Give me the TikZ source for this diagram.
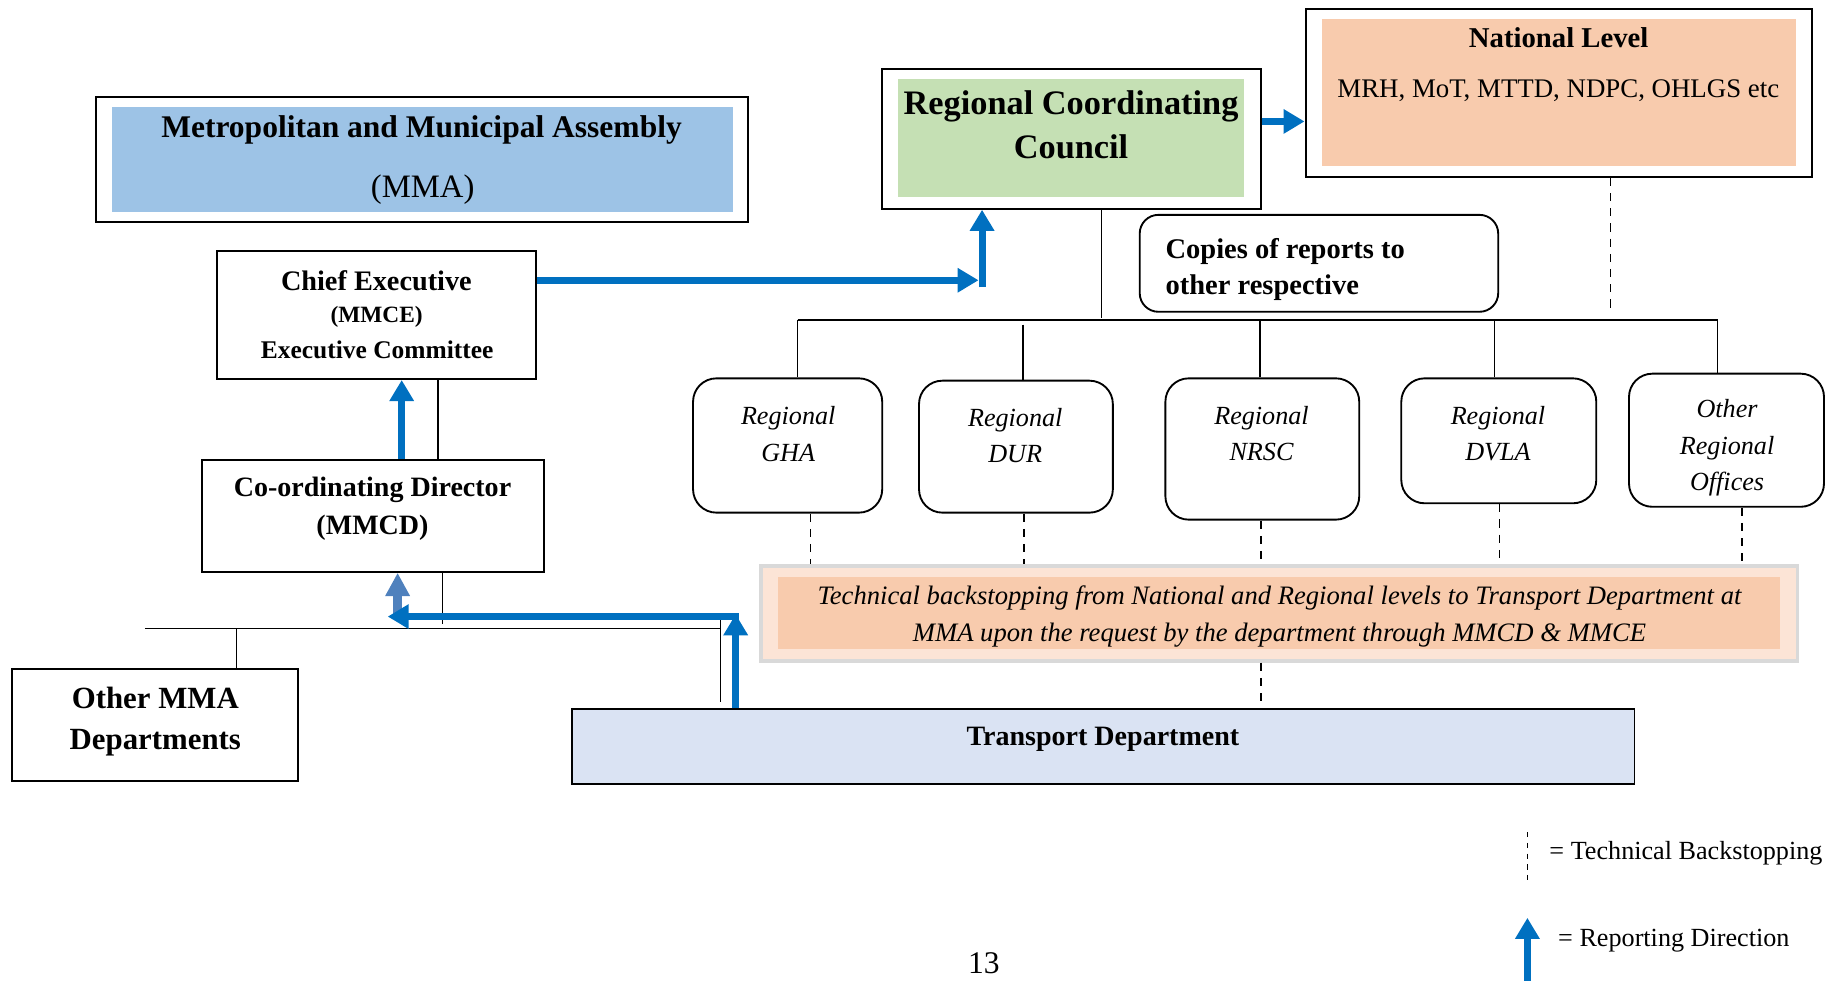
\documentclass[tikz,border=0pt]{standalone}
\usepackage{fontspec}
\setmainfont{Liberation Serif}
\usetikzlibrary{arrows.meta,fit}

\definecolor{rptblue}{HTML}{0070C0}
\definecolor{fadeblue}{HTML}{4F81BD}
\definecolor{mmablue}{HTML}{9DC3E6}
\definecolor{rccgreen}{HTML}{C5E0B4}
\definecolor{peach}{HTML}{F8CBAD}
\definecolor{peachlight}{HTML}{FCE4D6}
\definecolor{framegray}{HTML}{D9D9D9}
\definecolor{tdblue}{HTML}{DAE3F3}

\newcommand\sizeat[2]{\fontsize{#1}{#2}\selectfont}

\begin{document}
\begin{tikzpicture}[x=0.5pt,y=-0.5pt,
  boxframe/.style={draw=black, line width=0.85pt, inner sep=0pt},
  boxfill/.style={draw=none, inner sep=0pt},
  officebox/.style={draw=black, line width=0.8pt, rounded corners=10pt, inner sep=0pt},
  txt/.style={inner sep=0pt, align=center, yshift=-1.25pt},
  thinlink/.style={draw=black, line width=0.55pt},
  dashlink/.style={draw=black, line width=0.7pt, dash pattern=on 3.5pt off 3pt},
  reportarrow/.style={draw=rptblue, line width=3pt, -{Triangle[width=10pt,length=9pt]}},
  fadearrow/.style={draw=fadeblue, line width=3.6pt, -{Triangle[width=10pt,length=10pt]}},
]
\useasboundingbox (0,0) rectangle (1568,840);

% ---------- MMA header ----------
\node[boxfill, fill=mmablue, fit={(96,92) (627.5,181.5)}] (mmafill) {};
\node[boxframe, fit={(82,83) (640.5,190)}] (mma) {};
\node[txt, font=\sizeat{13.5}{16}\bfseries] (mmaname) at (361,108.5) {Metropolitan and Municipal Assembly};
\node[txt, font=\sizeat{14}{17}] (mmaabbr) at (362,160) {(MMA)};

% ---------- Chief Executive ----------
\node[boxframe, fit={(186,215.3) (459,324.6)}] (ce) {};
\node[txt, font=\sizeat{12.1}{14}\bfseries] (cename) at (322.3,238.2) {Chief Executive};
\node[txt, font=\sizeat{10}{12}\bfseries] (ceabbr) at (322.5,268.9) {(MMCE)};
\node[txt, font=\sizeat{10.9}{13}\bfseries] (cecomm) at (323,297.2) {Executive Committee};

% ---------- Co-ordinating Director ----------
\node[boxframe, fit={(172.6,393.6) (466.1,489.7)}] (cd) {};
\node[txt, font=\sizeat{12}{16}\bfseries] (cdname) at (319,433.2) {Co-ordinating Director\\(MMCD)};

% ---------- Other MMA Departments ----------
\node[boxframe, fit={(10.6,573.2) (254.8,668.8)}] (om) {};
\node[txt, font=\sizeat{13.2}{17.7}\bfseries] (omname) at (133,615.3) {Other MMA\\Departments};

% ---------- Transport Department ----------
\node[boxframe, fill=tdblue, fit={(490,607.5) (1399.7,671)}] (td) {};
\node[txt, font=\sizeat{12}{14}\bfseries] (tdname) at (944.5,630.9) {Transport Department};

% ---------- Regional Coordinating Council ----------
\node[boxfill, fill=rccgreen, fit={(769,67.7) (1065.5,169)}] (rccfill) {};
\node[boxframe, fit={(755,59) (1079.5,178.8)}] (rcc) {};
\node[txt, font=\sizeat{14.7}{18.6}\bfseries] (rccname) at (917.2,104.2) {Regional Coordinating\\Council};

% ---------- National Level ----------
\node[boxfill, fill=peach, fit={(1132,16.3) (1537.7,142.5)}] (natfill) {};
\node[boxframe, fit={(1118,7.3) (1552,151.5)}] (nat) {};
\node[txt, font=\sizeat{12.3}{14}\bfseries] (natname) at (1334.8,30) {National Level};
\node[txt, font=\sizeat{11.5}{14}] (natlist) at (1334.5,74.8) {MRH, MoT, MTTD, NDPC, OHLGS etc};

% ---------- Copies note ----------
\node[officebox, rounded corners=8pt, fit={(976,184) (1283,267)}] (copies) {};
\node[txt, align=left, anchor=west, font=\sizeat{12.2}{15.6}\bfseries] (copiestext) at (997.8,228.4) {Copies of reports to\\other respective};

% ---------- Regional offices ----------
\node[officebox, fit={(593.5,324) (755.5,439)}] (gha) {};
\node[officebox, fit={(787,326) (953,439)}] (dur) {};
\node[officebox, fit={(998,324) (1164,445)}] (nrsc) {};
\node[officebox, fit={(1200,324) (1367,431)}] (dvla) {};
\node[officebox, fit={(1395,320) (1562,434)}] (oth) {};

\begin{scope}[every node/.style={txt, font=\sizeat{11.2}{15.6}\itshape}]
  \node (ghatext)  at (675,369.3)  {Regional\\GHA};
  \node (durtext)  at (869.4,370.7) {Regional\\DUR};
  \node (nrsctext) at (1080.3,369) {Regional\\NRSC};
  \node (dvlatext) at (1282.8,368.7) {Regional\\DVLA};
  \node (othtext)  at (1479,381.1) {Other\\Regional\\Offices};
\end{scope}

% ---------- Technical backstopping panel ----------
\node[draw=framegray, line width=1.7pt, fill=peachlight, inner sep=0pt,
      fit={(651.9,484.7) (1539.3,565.8)}] (bs) {};
\node[boxfill, fill=peach, fit={(666,494.4) (1524.4,555.5)}] (bsfill) {};
\node[txt, font=\sizeat{11.4}{16}\itshape] (bstext) at (1095.7,525.7)
  {Technical backstopping from National and Regional levels to Transport Department at\\MMA upon the request by the department through MMCD \& MMCE};

% ---------- Organisational links ----------
\draw[thinlink] (ce.south -| 375,0) -- (cd.north -| 375,0);
\coordinate (rccdrop) at (943,272);
\draw[thinlink] (rcc.south -| 943,0) -- (rccdrop);
\coordinate (regL) at (683,274);
\coordinate (regR) at (1471,274);
\draw[thinlink] (regL) -- (regR);
\draw[thinlink] (regL) -- (gha.north -| regL);
\coordinate (durtop) at (876,278);
\draw[thinlink] (durtop) -- (dur.north -| durtop);
\draw[thinlink] (nrsc.north -| 1079,0) -- (1079,0 |- regL);
\draw[thinlink] (dvla.north -| 1280,0) -- (1280,0 |- regL);
\draw[thinlink] (regR) -- (oth.north -| regR);

% lower bus linking the MMA departments
\coordinate (busL) at (124,538);
\coordinate (busR) at (617,538);
\coordinate (busTop) at (617,528);
\coordinate (busBot) at (617,601);
\draw[thinlink] (busL) -- (busR);
\draw[thinlink] (busTop) -- (busBot);
\draw[thinlink] (busL -| 202.5,0) -- (om.north -| 202.5,0);
\coordinate (cdstub) at (379,534);
\draw[thinlink] (cd.south -| cdstub) -- (cdstub);

% ---------- Technical backstopping (dashed) ----------
\coordinate (natdrop) at (1379,266);
\draw[dashlink] (nat.south -| natdrop) -- (natdrop);
\draw[dashlink] (gha.south -| 694,0) -- (bs.north -| 694,0);
\draw[dashlink] (dur.south -| 877,0) -- (bs.north -| 877,0);
\draw[dashlink] (nrsc.south -| 1080,0) -- (bs.north -| 1080,0);
\draw[dashlink] (dvla.south -| 1284,0) -- (bs.north -| 1284,0);
\draw[dashlink] (oth.south -| 1492,0) -- (bs.north -| 1492,0);
\draw[dashlink] (bs.south -| 1080,0) -- (td.north -| 1080,0);

% ---------- Reporting direction (blue arrows) ----------
\coordinate (ceturn) at (838,240);
\coordinate (rccfoot) at (841,246);
\draw[reportarrow] (ce.east |- ceturn) -- (ceturn);
\draw[reportarrow] (rccfoot) -- (rcc.south -| rccfoot);
\draw[reportarrow] (rcc.east |- 0,104) -- (nat.west |- 0,104);
\draw[reportarrow] (cd.north -| 344,0) -- (ce.south -| 344,0);

\coordinate (tdturn) at (630,526);
\coordinate (tdcorner) at (633,528);
\coordinate (cdjoin) at (332,528);
\coordinate (fadebase) at (340.5,529);
\draw[fadearrow] (fadebase) -- (cd.south -| fadebase);
\draw[reportarrow] (td.north -| tdturn) -- (tdturn);
\draw[reportarrow] (tdcorner) -- (cdjoin);

% ---------- Legend ----------
\coordinate (lgdashA) at (1308,712.5);
\coordinate (lgdashB) at (1308,754);
\draw[draw=black, line width=0.7pt, dash pattern=on 2.3pt off 2.3pt] (lgdashA) -- (lgdashB);
\node[txt, anchor=west, font=\sizeat{11.2}{13}] (lgdashtext) at (1326.5,728) {= Technical Backstopping};
\coordinate (lgarrowA) at (1308,840);
\coordinate (lgarrowB) at (1308,786);
\draw[reportarrow] (lgarrowA) -- (lgarrowB);
\node[txt, anchor=west, font=\sizeat{11.2}{13}] (lgarrowtext) at (1334,803) {= Reporting Direction};

% ---------- Page number ----------
\node[txt, font=\sizeat{13.5}{16}] (pageno) at (842.5,822) {13};
\end{tikzpicture}
\end{document}
